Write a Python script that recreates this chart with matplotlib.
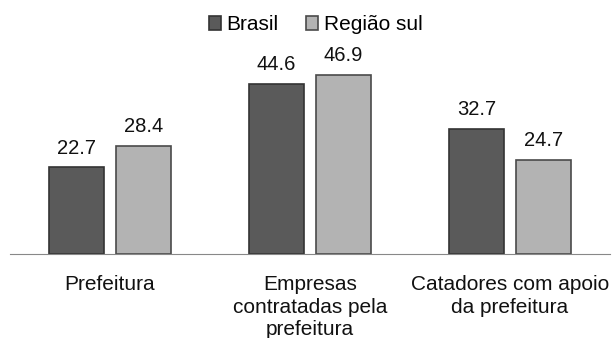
import matplotlib
matplotlib.use('Agg')
import matplotlib.pyplot as plt
import numpy as np

# Dados
categorias = ['Prefeitura', 'Empresas\ncontratadas pela\nprefeitura', 'Catadores com apoio\nda prefeitura']
brasil = [22.7, 44.6, 32.7]
regiao_sul = [28.4, 46.9, 24.7]

plt.rcParams['font.family'] = ['Liberation Sans', 'DejaVu Sans']

fig = plt.figure(figsize=(6.14, 3.38), dpi=100)
ax = fig.add_axes([10/614, 84/338, 600/614, 210/338])

x = np.arange(len(categorias))
w = 0.275
b1 = ax.bar(x - 0.167, brasil, w, color='#5a5a5a', edgecolor='#333333', linewidth=1.2, label='Brasil')
b2 = ax.bar(x + 0.167, regiao_sul, w, color='#b3b3b3', edgecolor='#4a4a4a', linewidth=1.2, label='Região sul')

for barras in (b1, b2):
    ax.bar_label(barras, labels=[f'{v:.1f}' for v in barras.datavalues], padding=7, fontsize=14.5, color='#111111')

ax.set_xlim(-0.5, 2.5)
ax.set_ylim(0, 55)
ax.set_xticks(x)
ax.set_xticklabels(categorias, fontsize=15, color='#111111', linespacing=1.25)
ax.tick_params(axis='x', length=0, pad=15)
ax.set_yticks([])
for s in ['top', 'right', 'left']:
    ax.spines[s].set_visible(False)
ax.spines['bottom'].set_color('#888888')

fig.legend(loc='upper center', bbox_to_anchor=(0.514, 1.01), ncol=2, frameon=False,
           fontsize=15, handlelength=0.6, handleheight=0.6, handletextpad=0.25,
           columnspacing=1.3)

fig.savefig('out.png', dpi=100)
